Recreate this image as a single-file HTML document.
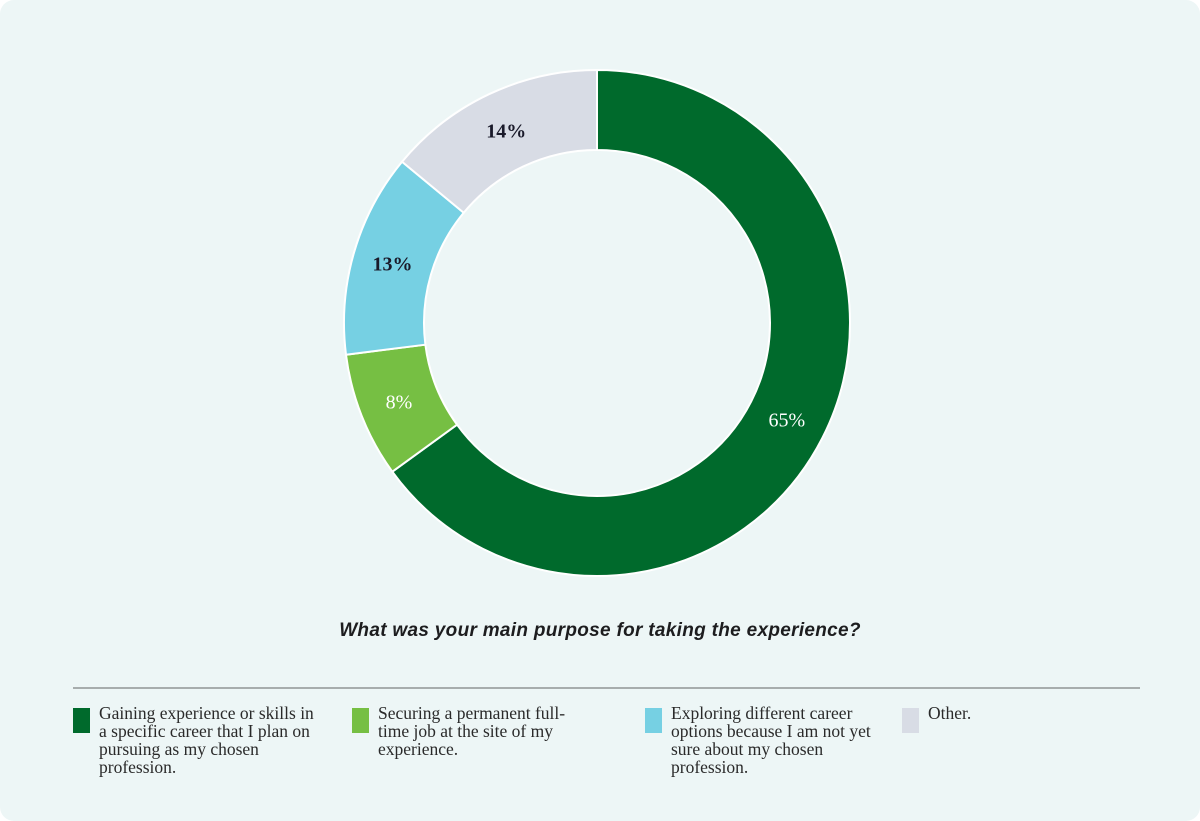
<!DOCTYPE html>
<html><head><meta charset="utf-8"><style>
body{margin:0;background:#fff;}
#card{position:absolute;left:0;top:0;width:1200px;height:821px;background:#EDF6F6;border-radius:14px;overflow:hidden;font-family:"Liberation Sans",sans-serif;}
#title{position:absolute;left:0;width:1200px;top:620px;text-align:center;font-style:italic;font-weight:bold;font-size:19px;color:#1d1d1f;letter-spacing:0.3px;}
#rule{position:absolute;left:73px;top:687px;width:1067px;height:2px;background:#A7ADAD;}
.leg{position:absolute;top:708px;}
.sw{position:absolute;left:0;top:0;width:17px;height:25px;}
.lt{position:absolute;left:26px;top:-4px;font-family:"Liberation Serif",serif;font-size:17.5px;line-height:18px;color:#2a2a2a;}
</style></head><body>
<div id="card">
<svg id="donut" width="1200" height="600" style="position:absolute;left:0;top:0"></svg>
<div id="title">What was your main purpose for taking the experience?</div>
<div id="rule"></div>
<div class="leg" style="left:73px;width:240px"><div class="sw" style="background:#006A2C"></div><div class="lt" style="width:220px">Gaining experience or skills in a specific career that I plan on pursuing as my chosen profession.</div></div>
<div class="leg" style="left:352px;width:240px"><div class="sw" style="background:#76BF43"></div><div class="lt" style="width:210px">Securing a permanent full-time job at the site of my experience.</div></div>
<div class="leg" style="left:645px;width:240px"><div class="sw" style="background:#76D0E3"></div><div class="lt" style="width:205px">Exploring different career options because I am not yet sure about my chosen profession.</div></div>
<div class="leg" style="left:902px;width:200px"><div class="sw" style="background:#D8DCE5"></div><div class="lt" style="width:150px">Other.</div></div>
</div>
<script>
const categories=["Career skills","Permanent job","Exploring","Other"];
const values=[65,8,13,14];
const labels=["65%","8%","13%","14%"];
const colors=["#006A2C","#76BF43","#76D0E3","#D8DCE5"];
const labelColors=["#ffffff","#ffffff","#1a1a2a","#1a1a2a"];
const svg=document.getElementById('donut');
const NS="http://www.w3.org/2000/svg";
const cx=597,cy=323,R=253,r=173;
const total=values.reduce((a,b)=>a+b,0);
function pt(a,rad){return [cx+rad*Math.sin(a),cy-rad*Math.cos(a)];}
let acc=0;
values.forEach((v,i)=>{
 const a0=acc/total*2*Math.PI, a1=(acc+v)/total*2*Math.PI; acc+=v;
 const large=(a1-a0)>Math.PI?1:0;
 const p0=pt(a0,R),p1=pt(a1,R),q1=pt(a1,r),q0=pt(a0,r);
 const path=document.createElementNS(NS,'path');
 path.setAttribute('d',`M${p0[0]},${p0[1]} A${R},${R} 0 ${large} 1 ${p1[0]},${p1[1]} L${q1[0]},${q1[1]} A${r},${r} 0 ${large} 0 ${q0[0]},${q0[1]} Z`);
 path.setAttribute('fill',colors[i]);
 path.setAttribute('stroke','#ffffff');
 path.setAttribute('stroke-width','2');
 
 
 svg.appendChild(path);
 const am=(a0+a1)/2, lp=pt(am,(R+r)/2);
 const t=document.createElementNS(NS,'text');
 t.setAttribute('x',lp[0]);t.setAttribute('y',lp[1]+7);
 t.setAttribute('text-anchor','middle');
 t.setAttribute('font-family','"Liberation Serif",serif');
 t.setAttribute('font-size','20');
 t.setAttribute('font-weight',i>=2?'bold':'normal');
 t.setAttribute('fill',labelColors[i]);
 t.textContent=labels[i];
 
 
 svg.appendChild(t);
});
</script>
</body></html>
